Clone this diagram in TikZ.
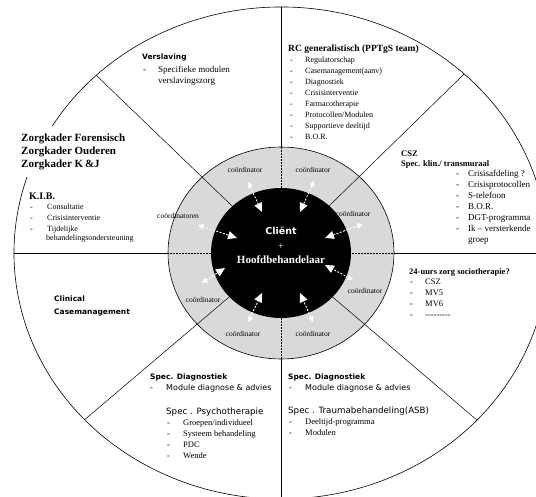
\documentclass[tikz,border=0pt]{standalone}
\usepackage{fontspec}
\setmainfont{Liberation Serif}
\newfontfamily\dvs{DejaVu Sans}
\usetikzlibrary{arrows.meta}
\begin{document}
\begin{tikzpicture}[x=1pt,y=-1pt,
  every node/.style={inner sep=0pt},
  tx/.style={anchor=base west},
  sbold/.style={tx,font=\dvs\bfseries\fontsize{7.5}{9}\selectfont},
  sreg/.style={tx,font=\dvs\fontsize{8}{9}\selectfont},
  smed/.style={tx,font=\dvs\fontsize{8.7}{10}\selectfont},
  rbold/.style={tx,font=\bfseries\fontsize{#1}{#1}\selectfont},
  rtxt/.style={tx,font=\fontsize{#1}{#1}\selectfont},
  colabel/.style={font=\fontsize{7.5}{8}\selectfont},
  outline/.style={draw=black,line width=0.6pt},
  ringline/.style={black,line width=0.5pt},
  ringdot/.style={black,line width=0.5pt,densely dotted},
  coarr/.style={white,line width=0.9pt,dash pattern=on 2pt off 1.5pt,
    {Triangle[width=5.5pt,length=5.5pt]}-{Triangle[width=8pt,length=9pt]}},
]
\useasboundingbox (0,0) rectangle (536,497);
\clip (0,0) rectangle (536,497);
\coordinate (C) at (281,253);
% grey ring
\fill[gray!30] (C) ellipse [x radius=113, y radius=106];
% radial lines
\coordinate (ul) at (96.3,75.4);
\coordinate (ur) at (464.1,74.0);
\coordinate (ll) at (84.6,419.7);
\coordinate (lr) at (476.9,420.1);
\draw[ringline] (C) -- (ul);
\draw[ringline] (C) -- (ur);
\draw[ringline] (C) -- (ll);
\draw[ringline] (C) -- (lr);
\coordinate (vt) at (281,7);   \coordinate (vto) at (281,147); \coordinate (vti) at (281,188);
\coordinate (vb) at (281,500); \coordinate (vbo) at (281,359); \coordinate (vbi) at (281,318);
\coordinate (hl) at (14,253);  \coordinate (hlo) at (168,253); \coordinate (hli) at (211,253);
\coordinate (hr) at (550,253); \coordinate (hro) at (394,253); \coordinate (hri) at (351,253);
\draw[ringline] (vt) -- (vto); \draw[ringdot] (vto) -- (vti);
\draw[ringline] (vb) -- (vbo); \draw[ringdot] (vbo) -- (vbi);
\draw[ringline] (hl) -- (hlo); \draw[ringdot] (hlo) -- (hli);
\draw[ringline] (hr) -- (hro); \draw[ringdot] (hro) -- (hri);
\draw[outline] (C) ellipse [x radius=113, y radius=106];
% black core
\fill[black] (C) ellipse [x radius=70, y radius=65];
% big outer circle (with gap at upper left)
\draw[outline] (C) ++(211:267 and 246) arc[start angle=211, end angle=558, x radius=267, y radius=246];

% centre text
\node[font=\dvs\bfseries\fontsize{9.5}{10}\selectfont,text=white] (client) at (281,231) {Cliënt};
\node[font=\fontsize{10}{10}\selectfont,text=white] (plus) at (281,247) {+};
\node[font=\bfseries\fontsize{11}{11}\selectfont,text=white] (hoofd) at (281,260) {Hoofdbehandelaar};

% coordinator labels
\node[colabel] (c1) at (245,170) {coördinator};
\node[colabel] (c2) at (313,170) {coördinator};
\node[colabel] (c3) at (353,214) {coördinator};
\node[colabel] (c4) at (178,216) {coördinatoren};
\node[colabel] (c5) at (203,300) {coördinator};
\node[colabel] (c6) at (243,334) {coördinator};
\node[colabel] (c7) at (313,334) {coördinator};
\node[colabel] (c8) at (365,291) {coördinator};
% arrows
\coordinate (o1) at (248,182); \coordinate (i1) at (262,212);
\coordinate (o2) at (314,181); \coordinate (i2) at (300,212);
\coordinate (o3) at (363,224); \coordinate (i3) at (325,238);
\coordinate (o4) at (198,225); \coordinate (i4) at (237,238);
\coordinate (o5) at (202,283); \coordinate (i5) at (225,268);
\coordinate (o6) at (248,322); \coordinate (i6) at (262,293);
\coordinate (o7) at (313,322); \coordinate (i7) at (300,293);
\coordinate (o8) at (353,280); \coordinate (i8) at (325,265);
\foreach \k in {1,...,8} \draw[coarr] (o\k) -- (i\k);

% Verslaving
\node[sbold] (vers) at (142,60) {Verslaving};
\node[rtxt=9] (versd) at (143,73) {-};
\node[rtxt=9] (vers1) at (158,73) {Specifieke modulen};
\node[rtxt=9] (vers2) at (158,84) {verslavingszorg};

% RC generalistisch
\node[rbold=9.5] (rc) at (288,52) {RC generalistisch (PPTgS team)};
\foreach \t [count=\i] in {Regulatorschap,Casemanagement(aanv),Diagnostiek,Crisisinterventie,Farmacotherapie,Protocollen/Modulen,Supportieve deeltijd,B.O.R.}{
  \node[rtxt=8] (rcd\i) at (290,52+11*\i) {-};
  \node[rtxt=8] (rc\i) at (305,52+11*\i) {\t};
}

% CSZ
\node[rbold=8.5] (csz) at (401,157) {CSZ};
\node[rbold=8.5] (cszs) at (401,167) {Spec. klin./ transmuraal};
\foreach \t [count=\i] in {Crisisafdeling ?,Crisisprotocollen,S-telefoon,B.O.R.,DGT-programma,Ik – versterkende}{
  \node[rtxt=9] (cszd\i) at (456,166+11*\i) {-};
  \node[rtxt=9] (csz\i) at (468,166+11*\i) {\t};
}
\node[rtxt=9] (csz7) at (468,243) {groep};

% Zorgkader
\node[rbold=11] (zk1) at (21,142) {Zorgkader Forensisch};
\node[rbold=11] (zk2) at (21,155) {Zorgkader Ouderen};
\node[rbold=11] (zk3) at (21,168) {Zorgkader K\,\&J};

% K.I.B.
\node[rbold=10] (kib) at (29,200) {K.I.B.};
\foreach \t [count=\i] in {Consultatie,Crisisinterventie,Tijdelijke}{
  \node[rtxt=8] (kibd\i) at (30,199+11*\i) {-};
  \node[rtxt=8] (kib\i) at (47,199+11*\i) {\t};
}
\node[rtxt=8] (kib4) at (46,241) {behandelingsondersteuning};

% Clinical Casemanagement
\node[sbold] (cl1) at (54,302) {Clinical};
\node[sbold] (cl2) at (54,315) {Casemanagement};

% 24-uurs zorg
\node[rbold=8.5] (uz) at (409,275) {24-uurs zorg sociotherapie?};
\foreach \t [count=\i] in {CSZ,MV5,MV6,-{}-{}-{}-{}-{}-{}-{}-{}-}{
  \node[rtxt=8.5] (uzd\i) at (410,274+11*\i) {-};
  \node[rtxt=8.5] (uz\i) at (425,274+11*\i) {\t};
}

% lower left
\node[sbold] (sdl) at (150,379) {Spec. Diagnostiek};
\node[sreg] (sdld) at (150,391) {-};
\node[sreg] (sdl1) at (166,391) {Module diagnose \& advies};
\node[smed] (sp) at (166,414) {Spec . Psychotherapie};
\foreach \t [count=\i] in {Groepen/individueel,Systeem behandeling,PDC,Wende}{
  \node[rtxt=8.5] (spd\i) at (167,414+11*\i) {-};
  \node[rtxt=8.5] (sp\i) at (183,414+11*\i) {\t};
}

% lower right
\node[sbold] (sdr) at (288,379) {Spec. Diagnostiek};
\node[sreg] (sdrd) at (289,391) {-};
\node[sreg] (sdr1) at (305,391) {Module diagnose \& advies};
\node[smed] (st) at (288,413) {Spec . Traumabehandeling(ASB)};
\foreach \t [count=\i] in {Deeltijd-programma,Modulen}{
  \node[rtxt=8.5] (std\i) at (289,413+11*\i) {-};
  \node[rtxt=8.5] (st\i) at (305,413+11*\i) {\t};
}
\end{tikzpicture}
\end{document}
